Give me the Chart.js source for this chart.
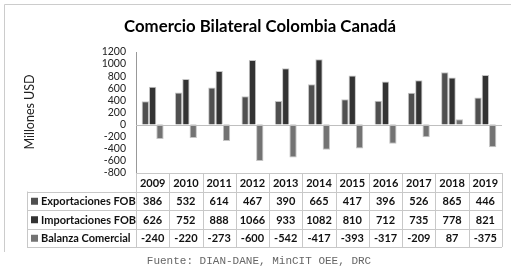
<!DOCTYPE html>
<html>
<head>
<meta charset="utf-8">
<script src="https://cdn.jsdelivr.net/npm/chart.js@4.4.0/dist/chart.umd.min.js"></script>
<style>
  html, body { margin: 0; padding: 0; background: #fff; }
  #wrap { width: 511px; height: 268px; }
</style>
</head>
<body>
<div id="wrap"><canvas id="grafik" width="511" height="268"></canvas></div>
<script>
const anios = ["2009", "2010", "2011", "2012", "2013", "2014", "2015", "2016", "2017", "2018", "2019"];
const exportaciones = [386, 532, 614, 467, 390, 665, 417, 396, 526, 865, 446];
const importaciones = [626, 752, 888, 1066, 933, 1082, 810, 712, 735, 778, 821];
const balanza = [-240, -220, -273, -600, -542, -417, -393, -317, -209, 87, -375];

const nombres = ["Exportaciones FOB", "Importaciones FOB", "Balanza Comercial"];
const colores = ["#505050", "#333333", "#737373"];
const lineaGris = "#c8c8c8";

// dibuja titulo, marco, linea cero, tabla de datos y fuente
const extras = {
    id: "extras",
    afterDraw(chart) {
        const ctx = chart.ctx;
        const area = chart.chartArea;
        const x = chart.scales.x;
        const y = chart.scales.y;
        ctx.save();

        // marco exterior
        ctx.strokeStyle = "#cccccc";
        ctx.lineWidth = 1;
        ctx.beginPath();
        ctx.moveTo(4.5, 252);
        ctx.lineTo(4.5, 4.5);
        ctx.lineTo(511, 4.5);
        ctx.stroke();

        // titulo
        ctx.fillStyle = "#000";
        ctx.font = "bold 16.8px Lato";
        ctx.textAlign = "center";
        ctx.textBaseline = "middle";
        ctx.fillText("Comercio Bilateral Colombia Canadá", 260, 27);

        // titulo eje y
        ctx.save();
        ctx.translate(30, 112);
        ctx.rotate(-Math.PI / 2);
        ctx.font = "12.5px Lato";
        ctx.fillStyle = "#222";
        ctx.fillText("Millones USD", 0, 0);
        ctx.restore();

        // linea cero
        const y0 = Math.round(y.getPixelForValue(0)) + 0.5;
        ctx.strokeStyle = "#bfbfbf";
        ctx.beginPath();
        ctx.moveTo(area.left, y0);
        ctx.lineTo(area.right, y0);
        ctx.stroke();

        // tabla
        const top = area.bottom;
        const filaH = 18.5;
        const izq = 27;
        const ancho = (area.right - area.left) / anios.length;
        ctx.strokeStyle = lineaGris;
        ctx.beginPath();
        for (let i = 0; i <= anios.length; i++) {
            const xx = Math.round(area.left + i * ancho) + 0.5;
            ctx.moveTo(xx, top);
            ctx.lineTo(xx, top + filaH * 4);
        }
        ctx.moveTo(area.left, top + 0.5);
        ctx.lineTo(area.right, top + 0.5);
        for (let r = 1; r <= 4; r++) {
            const yy = Math.round(top + r * filaH) + 0.5;
            ctx.moveTo(izq, yy);
            ctx.lineTo(area.right, yy);
        }
        ctx.moveTo(izq + 0.5, top + filaH);
        ctx.lineTo(izq + 0.5, top + filaH * 4);
        ctx.stroke();

        ctx.fillStyle = "#111";
        ctx.font = "bold 11px Lato";
        ctx.textAlign = "center";
        anios.forEach((a, i) => {
            ctx.fillText(a, x.getPixelForValue(i), top + filaH / 2 + 1);
        });

        const series = [exportaciones, importaciones, balanza];
        series.forEach((s, r) => {
            const cy = top + filaH * (r + 1.5) + 1;
            ctx.fillStyle = colores[r];
            ctx.fillRect(31, cy - 4, 7, 7);
            ctx.fillStyle = "#111";
            ctx.textAlign = "left";
            ctx.fillText(nombres[r], 41, cy);
            ctx.textAlign = "center";
            s.forEach((v, i) => {
                ctx.fillText(String(v), x.getPixelForValue(i), cy);
            });
        });

        // fuente
        ctx.font = "11px 'Liberation Mono'";
        ctx.fillStyle = "#666";
        ctx.textAlign = "center";
        ctx.fillText("Fuente: DIAN-DANE, MinCIT OEE, DRC", 259, 261);

        ctx.restore();
    }
};

new Chart(document.getElementById("grafik"), {
    type: "bar",
    data: {
        labels: anios,
        datasets: [
            { label: nombres[0], data: exportaciones, backgroundColor: colores[0] },
            { label: nombres[1], data: importaciones, backgroundColor: colores[1] },
            { label: nombres[2], data: balanza, backgroundColor: colores[2] }
        ].map(d => Object.assign(d, {
            borderColor: "#c4c4c4",
            borderWidth: 1,
            barPercentage: 1,
            categoryPercentage: 0.66
        }))
    },
    options: {
        responsive: false,
        animation: false,
        layout: { padding: { top: 52, right: 9, bottom: 95, left: 0 } },
        plugins: {
            legend: { display: false },
            title: { display: false },
            tooltip: { enabled: false }
        },
        scales: {
            x: { display: false },
            y: {
                min: -800,
                max: 1200,
                afterFit(scale) { scale.width = 136; },
                ticks: {
                    stepSize: 200,
                    autoSkip: false,
                    padding: 10,
                    color: "#222",
                    font: { family: "Lato", size: 10.5 },
                    callback: v => String(v)
                },
                grid: { display: false, drawTicks: false },
                border: { display: true, color: "#999999" }
            }
        }
    },
    plugins: [extras]
});
</script>
</body>
</html>
